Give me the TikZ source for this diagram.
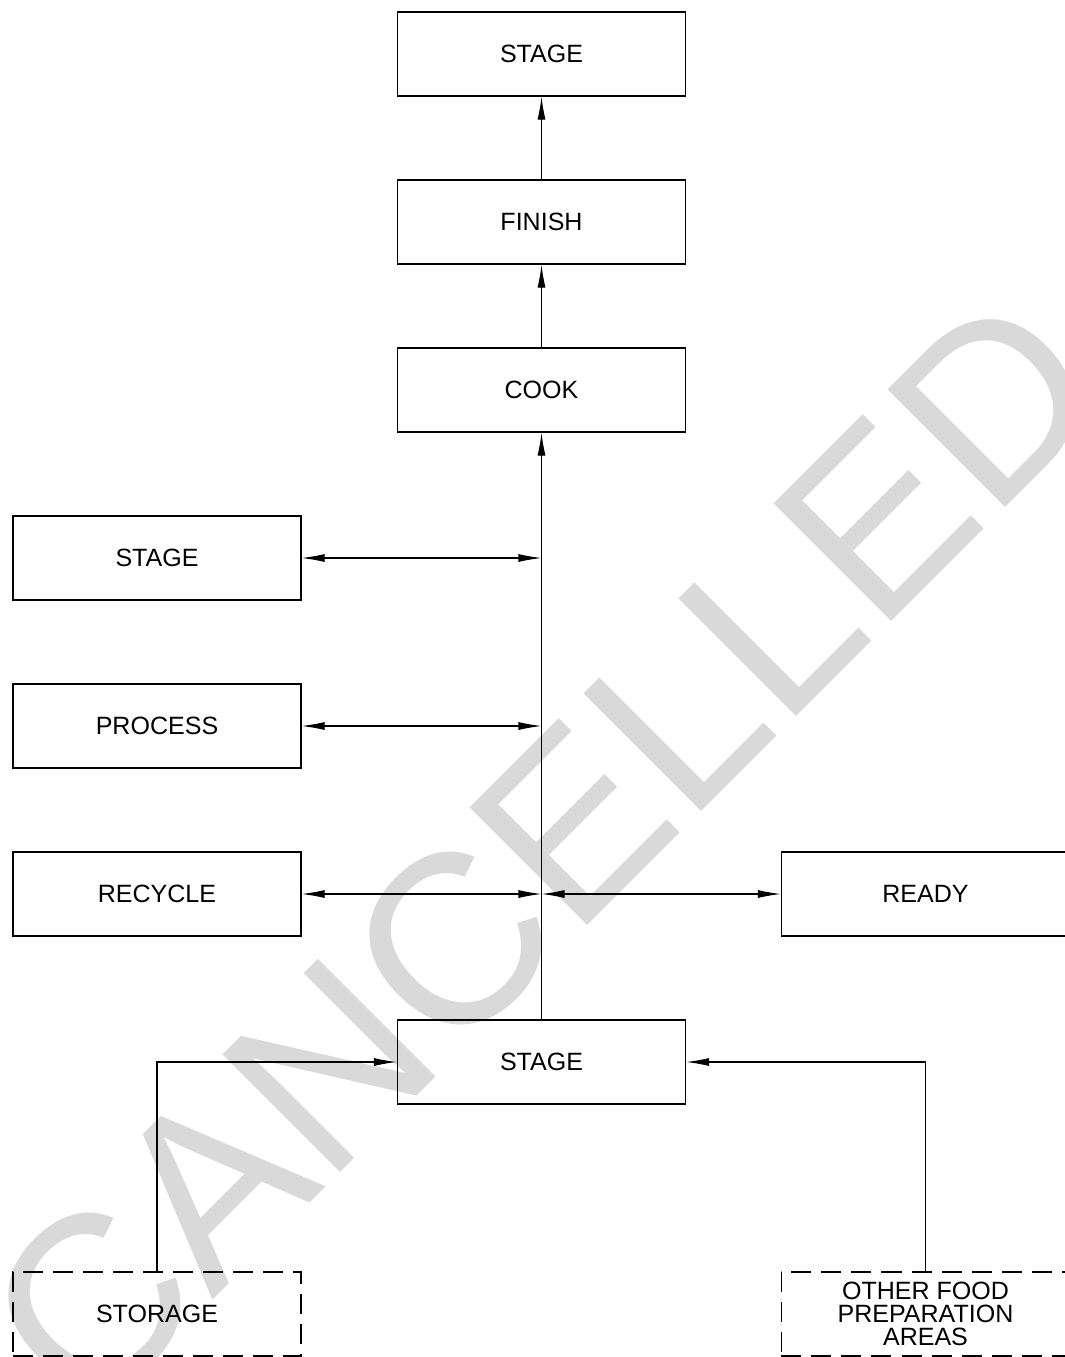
\documentclass[tikz,border=0pt]{standalone}
\usepackage{fontspec}
\setmainfont{Liberation Sans}
\usetikzlibrary{arrows.meta}
\definecolor{stampgray}{rgb}{0.85,0.85,0.85}
\tikzset{
  box/.style={draw=black,line width=0.8pt,minimum width=7.2cm,minimum height=2.1cm,inner sep=0pt,
    font=\fontsize{17.8}{16.3}\selectfont,align=center},
  dashbox/.style={box,dash pattern=on 0.5cm off 0.25cm},
  flow/.style={line width=0.8pt,-{Latex[length=0.575cm,width=0.2cm]}},
  both/.style={line width=0.8pt,{Latex[length=0.575cm,width=0.2cm]}-{Latex[length=0.575cm,width=0.2cm]}},
}
\begin{document}
\begin{tikzpicture}[x=0.025cm,y=-0.025cm]
      \useasboundingbox (0,0) rectangle (1065,1357);
      %% watermark
      \node[text=stampgray,rotate=45,anchor=base,inner sep=0pt,font=\fontsize{172}{172}\selectfont] (stamp) at (602,911) {CANCELLED};

      \node[box] (stagetop) at (541.5,54) {STAGE};
      \node[box] (finish) at (541.5,222) {FINISH};
      \node[box] (cook) at (541.5,390) {COOK};

      \node[box] (stageleft) at (157,558) {STAGE};
      \node[box] (process) at (157,726) {PROCESS};
      \node[box] (recycle) at (157,894) {RECYCLE};
      \node[box] (ready) at (925.5,894) {READY};

      \node[box] (stagebot) at (541.5,1062) {STAGE};
      \node[dashbox] (storage) at (157,1314) {STORAGE};
      \node[dashbox] (other) at (925.5,1314) {OTHER FOOD\\PREPARATION\\AREAS};

      \draw[flow] (cook) -- (finish);
      \draw[flow] (finish) -- (stagetop);
      \draw[flow] (stagebot) -- (cook);

      \draw[both] (stageleft.east) -- (stageleft.east -| cook.south);
      \draw[both] (process.east) -- (process.east -| cook.south);
      \draw[both] (recycle.east) -- (recycle.east -| cook.south);
      \draw[both] (recycle.east -| cook.south) -- (ready.west);

      \draw[flow] (storage.north) |- (stagebot.west);
      \draw[flow] (other.north) |- (stagebot.east);
\end{tikzpicture}
\end{document}
